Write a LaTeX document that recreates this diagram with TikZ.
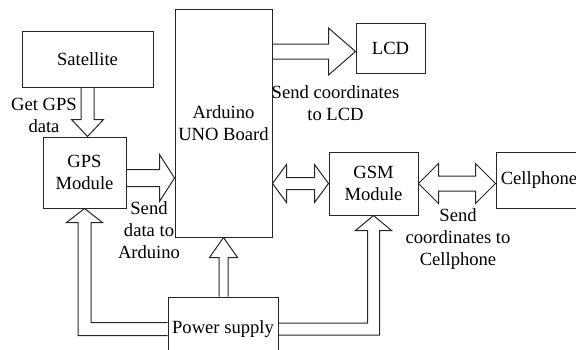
\documentclass[tikz,border=0pt]{standalone}
\usepackage{fontspec}
\setmainfont{Liberation Serif}
\usetikzlibrary{calc}

\begin{document}
\begin{tikzpicture}[
    x=0.5pt, y=-0.5pt,
    every node/.style={font=\fontsize{9.3}{11}\selectfont},
    block/.style={rectangle, draw=black!85, line width=0.5pt, align=center, inner sep=0pt},
    note/.style={align=center, inner sep=0pt},
    fat/.style n args={3}{draw=black!85, line width=0.5pt, to path={
        let \p1=(\tikztostart), \p2=(\tikztotarget),
            \n1={veclen(\x2-\x1,\y2-\y1)}, \n2={atan2(\y2-\y1,\x2-\x1)} in
        [shift={(\p1)}, rotate=\n2]
        (0pt,#1) -- ({\n1*1pt-#3},#1) -- ({\n1*1pt-#3},#2) -- ({\n1*1pt},0pt)
        -- ({\n1*1pt-#3},-#2) -- ({\n1*1pt-#3},-#1) -- (0pt,-#1)}},
    fatboth/.style n args={3}{draw=black!85, line width=0.5pt, to path={
        let \p1=(\tikztostart), \p2=(\tikztotarget),
            \n1={veclen(\x2-\x1,\y2-\y1)}, \n2={atan2(\y2-\y1,\x2-\x1)} in
        [shift={(\p1)}, rotate=\n2]
        (0pt,0pt) -- (#3,#2) -- (#3,#1) -- ({\n1*1pt-#3},#1) -- ({\n1*1pt-#3},#2)
        -- ({\n1*1pt},0pt) -- ({\n1*1pt-#3},-#2) -- ({\n1*1pt-#3},-#1)
        -- (#3,-#1) -- (#3,-#2) -- cycle}},
    fatbend/.style n args={3}{draw=black!85, line width=0.5pt, to path={
        let \p1=(\tikztostart), \p2=(\tikztotarget),
            \n3={sign(\x2-\x1)}, \n4={sign(\y2-\y1)} in
        (\x1,{\y1+\n4*#1}) -- ({\x2-\n3*#1},{\y1+\n4*#1}) -- ({\x2-\n3*#1},{\y2-\n4*#3})
        -- ({\x2-\n3*#2},{\y2-\n4*#3}) -- (\x2,\y2) -- ({\x2+\n3*#2},{\y2-\n4*#3})
        -- ({\x2+\n3*#1},{\y2-\n4*#3}) -- ({\x2+\n3*#1},{\y1-\n4*#1}) -- (\x1,{\y1-\n4*#1})}}
]
    \clip (0,0) rectangle (576,349);

    \node[block, minimum width=65.5pt, minimum height=28pt] (sat) at (87.5,59) {Satellite};
    \node[block, minimum width=48.5pt, minimum height=114pt] (ard) at (223.5,123) {Arduino\\UNO Board};
    \node[block, minimum width=34.5pt, minimum height=25pt] (lcd) at (390.5,48) {LCD};
    \node[block, minimum width=41.5pt, minimum height=35.5pt] (gps) at (84.5,172.5) {GPS\\Module};
    \node[block, minimum width=44.5pt, minimum height=31.5pt] (gsm) at (373.5,183.5) {GSM\\Module};
    \node[block, minimum width=43pt, minimum height=28pt] (cell) at (539,180) {Cellphone};
    \node[block, minimum width=55pt, minimum height=32pt] (power) at (223,329) {Power supply};

    \node[note] (lgps) at (44,115) {Get GPS\\data};
    \node[note] (lsend) at (149,230) {Send\\data to\\Arduino};
    \node[note] (llcd) at (335.5,103) {Send coordinates\\to LCD};
    \node[note] (lcell) at (458,239) {Send\\coordinates to\\Cellphone};

    \coordinate (g1) at ($(gps.east)+(0,5.5)$);
    \coordinate (l1) at ($(ard.east|-lcd.west)+(0,3.5)$);

    \draw[fat={3.25pt}{8pt}{8.5pt}] (sat.south) to (sat.south |- gps.north);
    \draw[fat={4.25pt}{11.75pt}{7.5pt}] (g1) to (g1 -| ard.west);
    \draw[fat={3.75pt}{11.75pt}{13.5pt}] (l1) to (l1 -| lcd.west);
    \draw[fatboth={3pt}{9.5pt}{7pt}] (gsm.west -| ard.east) to (gsm.west);
    \draw[fatboth={3.75pt}{10pt}{10pt}] (gsm.east) to (gsm.east -| cell.west);
    \draw[fat={2.25pt}{7pt}{10pt}] (ard.south |- power.north) to (ard.south);
    \draw[fatbend={3.25pt}{9pt}{7pt}] (power.west) to (gps.south);
    \draw[fatbend={3pt}{9pt}{7.5pt}] (power.east) to (gsm.south);
\end{tikzpicture}
\end{document}
